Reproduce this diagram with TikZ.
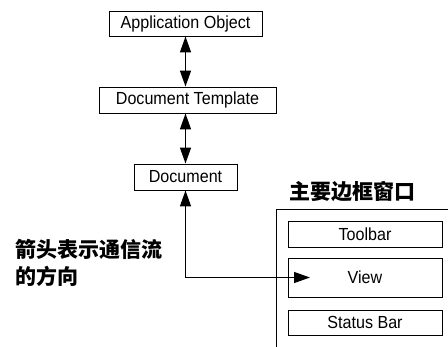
\documentclass[tikz,border=0pt]{standalone}
\usepackage{fontspec}
\setmainfont{Liberation Sans}[FakeStretch=0.92]
\newfontfamily\cjk{Noto Sans CJK SC}
\usepackage{tikz}
\usetikzlibrary{arrows.meta}

\tikzset{
	objbox/.style={draw, line width=0.9pt, inner sep=0pt, minimum width=154pt, minimum height=26pt},
	flow/.style={<->, line width=1.3pt},
	cjklabel/.style={font=\cjk\bfseries\fontsize{21}{27}\selectfont}
}

\begin{document}
\begin{tikzpicture}[x=1pt, y=-1pt, >={Triangle[length=16pt, width=11pt]}, every node/.style={font=\fontsize{17.5}{20}\selectfont}]
	\useasboundingbox (0,0) rectangle (448,347);
	% application side
	\node[objbox, minimum width=153pt, minimum height=25pt] (appobj) at (185.5,23.5) {Application Object};
	\node[objbox, minimum width=177pt] (doctemplate) at (187.5,100) {Document Template};
	\node[objbox, minimum width=103pt] (document) at (185.5,177) {Document};
	% main frame window
	\draw[line width=0.9pt] (448,209) -- (276,209) -- (276,347);
	\node[cjklabel] (frametitle) at (352,192) {主要边框窗口};
	\node[objbox] (toolbar) at (365,234) {Toolbar};
	\node[objbox, minimum height=39pt] (view) at (365,277.5) {View};
	\node[objbox, minimum height=25pt] (statusbar) at (365,322.5) {Status Bar};
	\coordinate (viewin) at (310,277.5);
	% communication paths
	\draw[flow] (appobj.south) -- (appobj.south |- doctemplate.north);
	\draw[flow] (document.north |- doctemplate.south) -- (document.north);
	\draw[flow] (document.south) |- (viewin);
	\node[cjklabel, anchor=north west, align=left, inner sep=0pt] (note) at (15,239) {箭头表示通信流\\的方向};
\end{tikzpicture}
\end{document}
